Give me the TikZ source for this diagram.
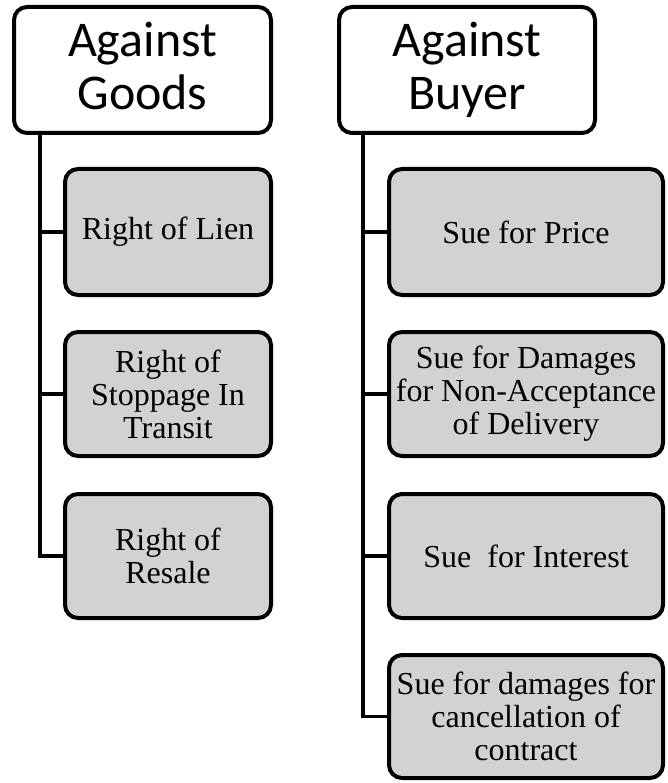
\documentclass[tikz,border=0pt]{standalone}
\usepackage{fontspec}
\setmainfont{Liberation Serif}
\newfontfamily\hfont{Carlito}
\definecolor{boxgray}{RGB}{210,210,210}
\begin{document}
\begin{tikzpicture}[x=1pt,y=-1pt,
  head/.style={draw=black, line width=4pt, rounded corners=13pt, fill=white,
    align=center, inner sep=0pt, font=\hfont\fontsize{50}{53}\selectfont},
  item/.style={draw=black, line width=4pt, rounded corners=13pt, fill=boxgray,
    align=center, inner sep=0pt, font=\fontsize{32}{33}\selectfont},
  conn/.style={line width=3.5pt, line join=miter}]
\useasboundingbox (0,0) rectangle (668,783);
% headers
\node[head, minimum width=257pt, minimum height=126pt] (hg) at (142.5,70) {Against\\Goods\vphantom{y}};
\node[head, minimum width=256pt, minimum height=126pt] (hb) at (467,70) {Against\\Buyer};
% left items
\node[item, minimum width=206pt, minimum height=126pt] (lien) at (168,232) {Right of Lien};
\node[item, minimum width=206pt, minimum height=124pt] (stop) at (168,394) {Right of\\Stoppage In\\Transit};
\node[item, minimum width=206pt, minimum height=124pt] (resale) at (168,556) {Right of\\Resale};
% right items
\node[item, minimum width=274pt, minimum height=126pt] (price) at (526,232) {Sue for Price};
\node[item, minimum width=274pt, minimum height=124pt] (dmg) at (526,394) {Sue for Damages\\for Non-Acceptance\\of Delivery};
\node[item, minimum width=274pt, minimum height=124pt] (intr) at (526,556) {Sue~ for Interest};
\node[item, minimum width=274pt, minimum height=123pt] (canc) at (526,716.5) {Sue for damages for\\cancellation of\\contract};
% trunk coordinates
\coordinate (lx) at (40,0);
\coordinate (rx) at (363,0);
% connectors left
\draw[conn] (hg.south -| lx) |- (resale.west);
\draw[conn] (lien.west -| lx) -- (lien.west);
\draw[conn] (stop.west -| lx) -- (stop.west);
% connectors right
\draw[conn] (hb.south -| rx) |- (canc.west);
\draw[conn] (price.west -| rx) -- (price.west);
\draw[conn] (dmg.west -| rx) -- (dmg.west);
\draw[conn] (intr.west -| rx) -- (intr.west);
\end{tikzpicture}
\end{document}
